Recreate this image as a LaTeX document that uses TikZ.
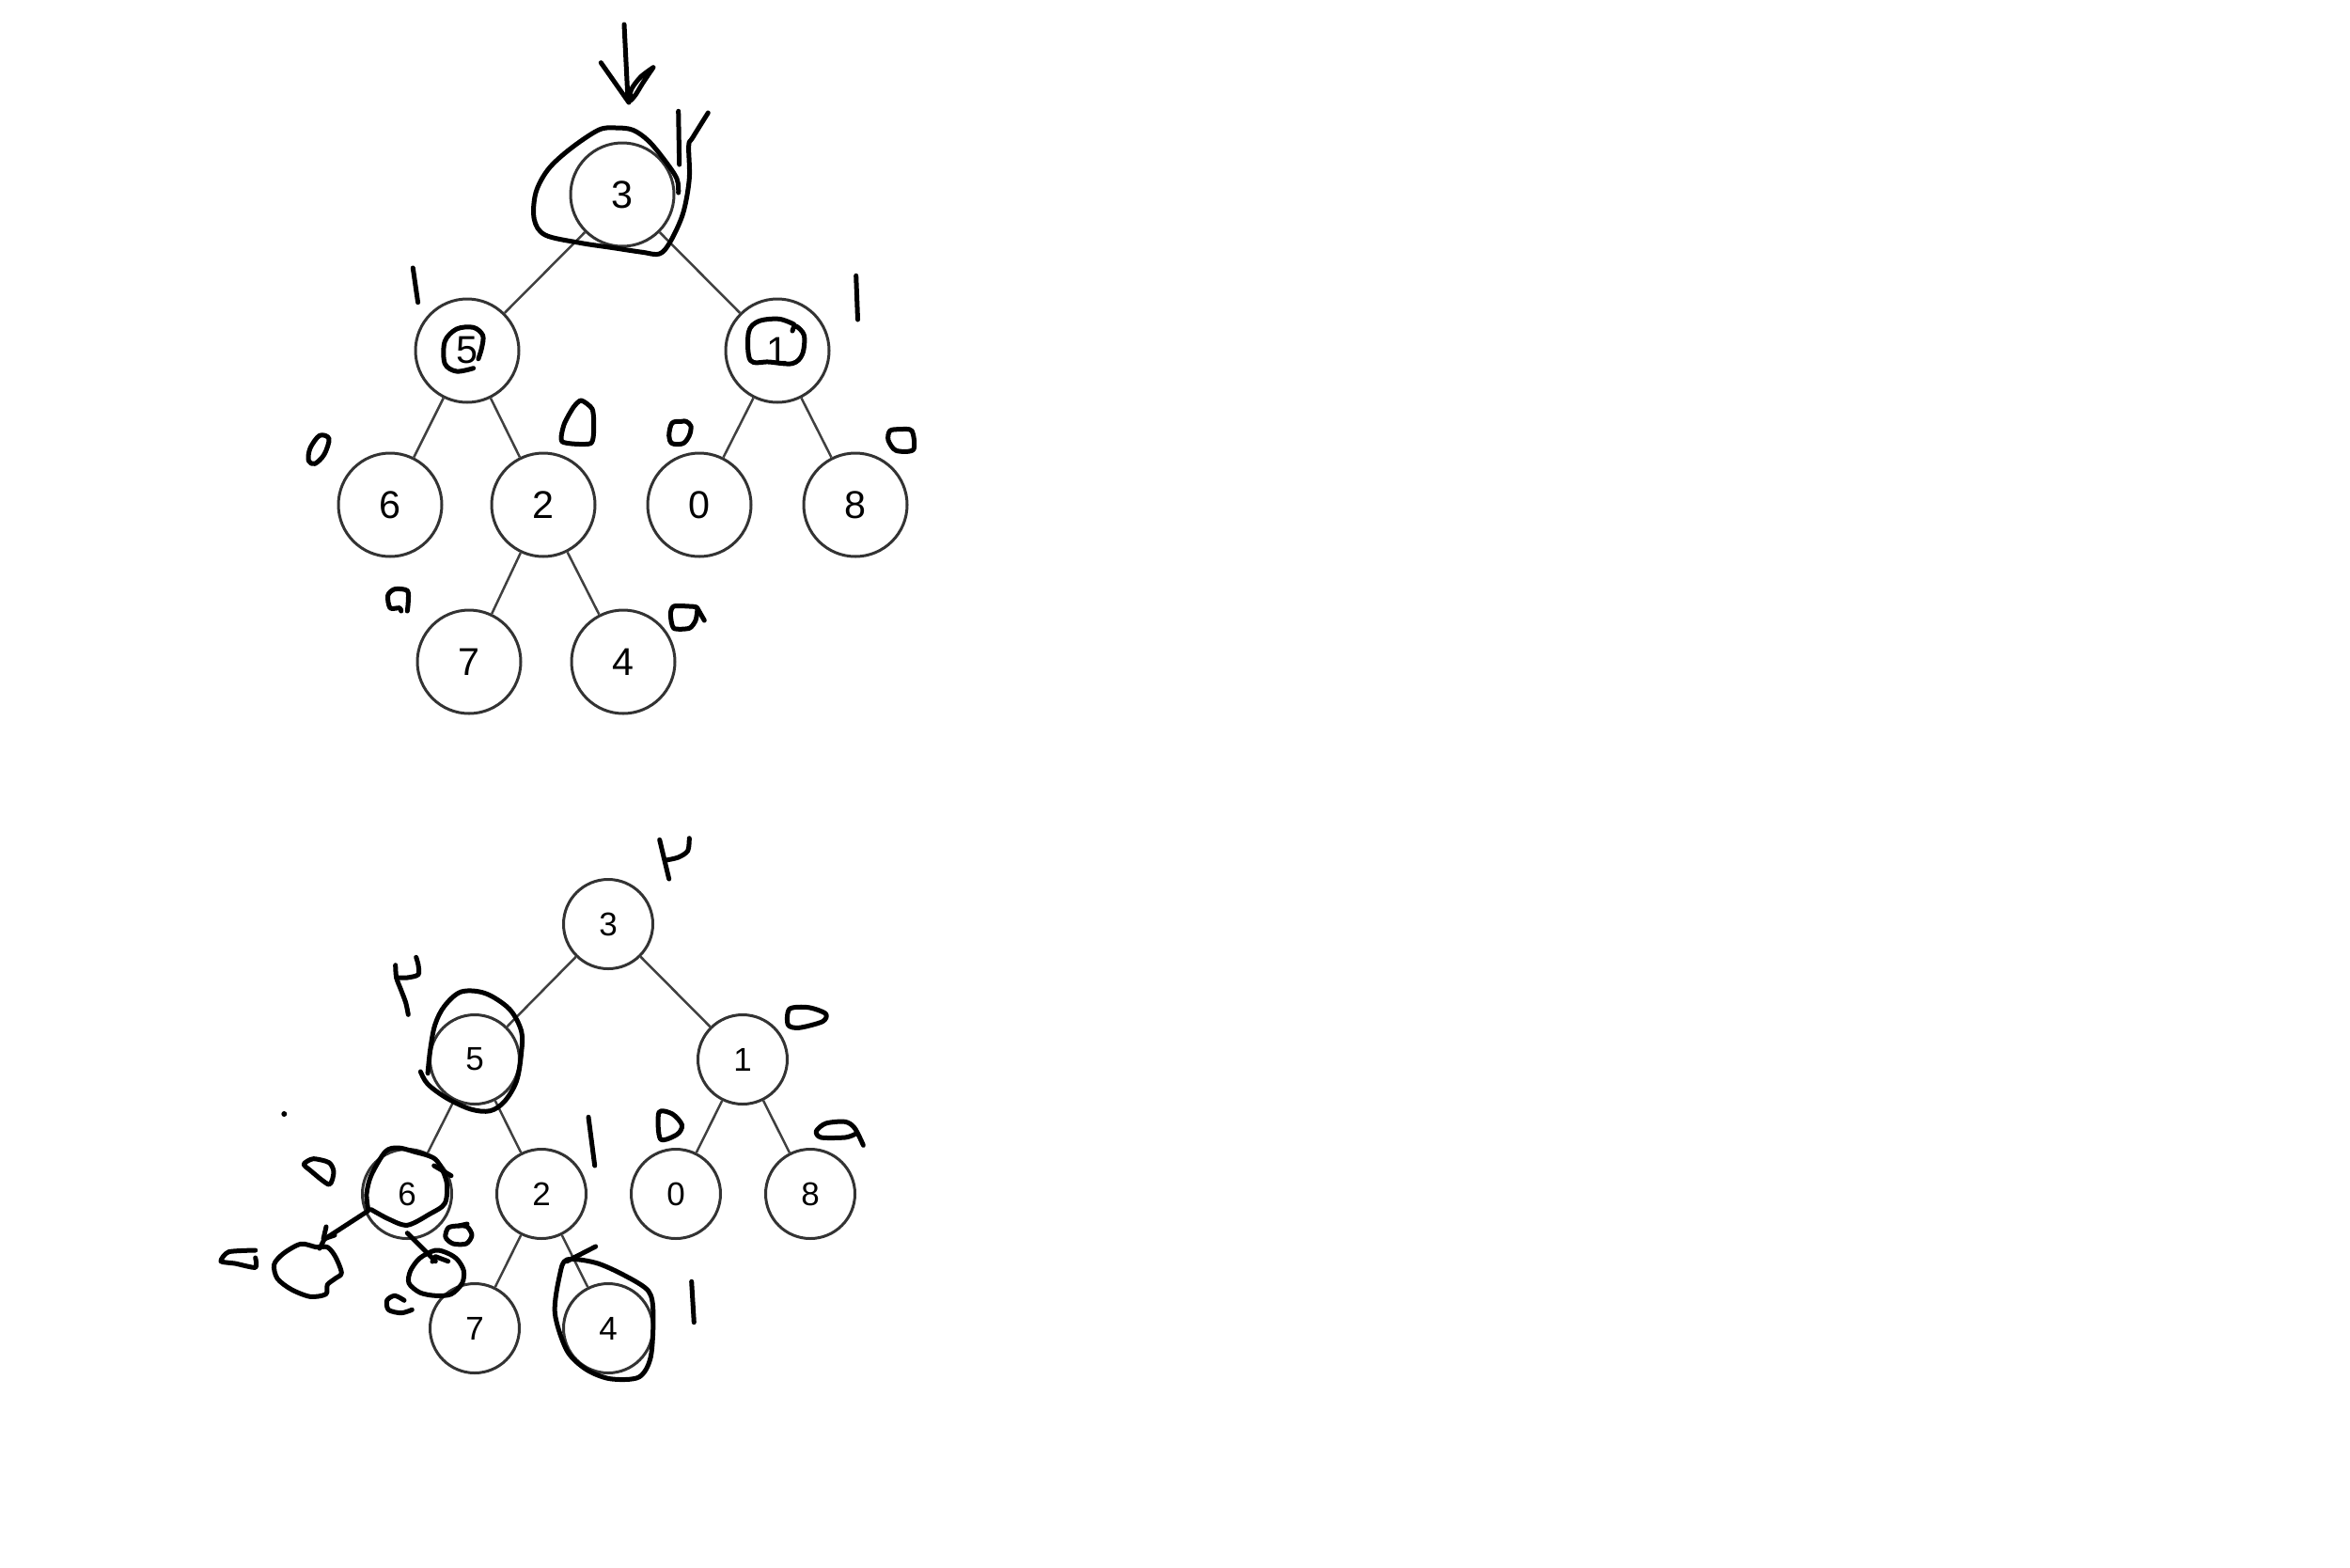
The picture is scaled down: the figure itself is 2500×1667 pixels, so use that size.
\documentclass[tikz,border=0pt]{standalone}
\usepackage{fontspec}
\setmainfont{Liberation Sans}
\begin{document}
\begin{tikzpicture}[x=0.4pt,y=-0.4pt,
  tnode/.style={circle, draw=black!80, line width=1.2pt, minimum size=44pt, inner sep=0pt, font=\fontsize{16.5}{18}\selectfont},
  bnode/.style={tnode, minimum size=38pt, font=\fontsize{14}{16}\selectfont},
  edge/.style={draw=black!75, line width=1pt},
  hand/.style={line width=2pt, line cap=round, line join=round, draw=black}]
\useasboundingbox[fill=white] (0,0) rectangle (2500,1667);

% ---------- top tree ----------
\node[tnode] (a3) at (662,207) {3};
\node[tnode] (a5) at (497,373) {5};
\node[tnode] (a1) at (827,373) {1};
\node[tnode] (a6) at (415,537) {6};
\node[tnode] (a2) at (578,537) {2};
\node[tnode] (a0) at (744,537) {0};
\node[tnode] (a8) at (910,537) {8};
\node[tnode] (a7) at (499,704) {7};
\node[tnode] (a4) at (663,704) {4};
\draw[edge] (a3) -- (a5);
\draw[edge] (a3) -- (a1);
\draw[edge] (a5) -- (a6);
\draw[edge] (a5) -- (a2);
\draw[edge] (a1) -- (a0);
\draw[edge] (a1) -- (a8);
\draw[edge] (a2) -- (a7);
\draw[edge] (a2) -- (a4);

% ---------- bottom tree ----------
\node[bnode] (b3) at (647,983) {3};
\node[bnode] (b5) at (505,1127) {5};
\node[bnode] (b1) at (790,1127) {1};
\node[bnode] (b6) at (433,1270) {6};
\node[bnode] (b2) at (576,1270) {2};
\node[bnode] (b0) at (719,1270) {0};
\node[bnode] (b8) at (862,1270) {8};
\node[bnode] (b7) at (505,1413) {7};
\node[bnode] (b4) at (647,1413) {4};
\draw[edge] (b3) -- (b5);
\draw[edge] (b3) -- (b1);
\draw[edge] (b5) -- (b6);
\draw[edge] (b5) -- (b2);
\draw[edge] (b1) -- (b0);
\draw[edge] (b1) -- (b8);
\draw[edge] (b2) -- (b7);
\draw[edge] (b2) -- (b4);

% ---------- hand annotations, top ----------
\coordinate (arrtop) at (664,26);
\coordinate (arrtip) at (668,106);
\draw[hand] (arrtop) -- (arrtip);
\draw[hand] (639.3,66.7) -- (669,109);
\draw[hand] plot[smooth,tension=0.5] coordinates {(695,71.7) (681.7,81.7) (671.7,95) (670,107) (676,101) (684,88) (695,71.7)};
% circle round 3 with the mark
\draw[hand] plot[smooth,tension=0.55] coordinates {(721.7,205) (720,190) (706.7,170) (690,150) (673.3,138.3) (655,136) (636.7,138.3) (606.7,158.3) (583.3,180) (570,205) (568.3,233.3) (580,250) (616.7,258.3) (650,263.3) (683.3,268.3) (701.7,270) (713.3,256.7) (726.7,226.7) (733.3,190) (732.7,155) (736.7,146.7) (753.3,120)};
\draw[hand] (721.7,118.3) -- (722.7,175);
% marks at level 1
\draw[hand] (439.3,285) -- (444.6,321.7);
\draw[hand] plot[smooth,tension=0.55] coordinates {(503.6,391.7) (485.7,395) (473.2,386.7) (473.2,363.3) (485.7,350) (503.6,348.3) (513.6,356.7) (512.5,370) (508.9,381.7)};
\draw[hand] plot[smooth,tension=0.55] coordinates {(844.6,345) (828.6,339.3) (807.1,341.7) (796.4,353.3) (798.2,383.3) (817.9,385) (842.9,386.7) (853.6,376.7) (855.4,356.7) (846.4,346.7) (843,352)};
\draw[hand] (910.7,293.3) -- (912.5,340);
% marks at level 2
\draw[hand] plot[smooth cycle,tension=0.55] coordinates {(350,466.7) (340,463.3) (330,476.7) (328.3,490) (335,493.3) (345,483.3)};
\draw[hand] plot[smooth cycle,tension=0.4] coordinates {(598.3,470) (600,451.7) (610,433.3) (618.3,426) (630,435) (631.7,453.3) (628.3,471.7)};
\draw[hand] plot[smooth cycle,tension=0.55] coordinates {(725,448.3) (715,450) (711.7,463.3) (715,471.7) (726.7,471.7) (733.3,463.3) (735,453.3) (730,448.3)};
\draw[hand] plot[smooth cycle,tension=0.5] coordinates {(956.7,456.7) (946.7,458.3) (945,468.3) (953.3,479.3) (971.7,478.3) (970,458.3)};
% marks at level 3
\draw[hand] plot[smooth,tension=0.5] coordinates {(426.7,650) (425,646.7) (415,646.7) (412.7,633.3) (420,626.7) (433.3,628.3) (434.3,640) (433.3,650)};
\draw[hand] plot[smooth cycle,tension=0.4] coordinates {(716.7,668.3) (713.3,653.3) (716.7,645) (733.3,645) (741.7,646.7) (740,660) (733.3,668.3)};
\draw[hand] (741.7,646.7) -- (749.3,660);

% ---------- hand annotations, bottom ----------
\draw[hand] (701.7,893.3) -- (711.7,935);
\draw[hand] plot[smooth,tension=0.5] coordinates {(708.5,915) (721.7,912) (731.7,905) (733.3,891.7)};
\draw[hand] plot[smooth cycle,tension=0.5] coordinates {(838.3,1090) (840,1073.3) (860,1071.7) (878.3,1078.3) (875,1086.7) (850,1093.3)};
% mark and circle at 5
\draw[hand] plot[smooth,tension=0.5] coordinates {(420.7,1026.7) (421.7,1040) (426.7,1053.3) (431.7,1066.7) (434.3,1079.3)};
\draw[hand] plot[smooth,tension=0.5] coordinates {(421.7,1040) (433.3,1040) (445,1036.7) (445,1026.7) (442.7,1018.3)};
\draw[hand] plot[smooth,tension=0.55] coordinates {(447.4,1140) (455.1,1153.3) (475.5,1168.3) (501,1180) (521.4,1181.7) (536.7,1171.7) (549.5,1150) (554.6,1120) (554.6,1096.7) (541.8,1073.3) (516.3,1056.7) (490.8,1055) (473,1070) (462.8,1090) (457.7,1116.7) (455.1,1141.7)};
% other marks of levels 1 and 2
\draw[hand] (626,1188.3) -- (632.7,1240);
\draw[hand] plot[smooth cycle,tension=0.5] coordinates {(702.6,1211.7) (701,1183.3) (715.3,1185) (725.5,1196.7) (720.4,1206.7)};
\draw[hand] plot[smooth,tension=0.5] coordinates {(909.2,1206.7) (899,1210) (873.5,1210) (868.4,1203.3) (878.6,1195) (899,1193.3) (909.2,1200) (918.4,1218.3)};
\fill (302.3,1185) circle (3);
\draw[hand] plot[smooth cycle,tension=0.45] coordinates {(350,1260) (355,1246.7) (350,1236.7) (333.3,1232.7) (323.3,1238.3) (330,1245)};
% circle at 6
\draw[hand] plot[smooth,tension=0.5] coordinates {(391.7,1286.7) (390,1270) (395,1250) (410,1225) (423.3,1221) (440,1225) (463.3,1233.3) (475,1256.7) (473.3,1280) (456.7,1291.7) (433.3,1303.3) (413.3,1296.7) (395,1286.7)};
\draw[hand] (461.7,1240) -- (480,1250.7);
% new children of 6
\coordinate (lnew) at (340,1328);
\coordinate (rnew) at (463.3,1341.7);
\draw[hand] (391.7,1288) -- (345,1318.3) -- (lnew);
\draw[hand] (347,1305) -- (344,1318) -- (356,1314);
\draw[hand] plot[smooth cycle,tension=0.5] coordinates {(336.7,1326.7) (320,1323.3) (301.7,1333.3) (291.7,1345) (295,1360) (310,1371.7) (330,1379.3) (346.7,1376.7) (348.3,1366.7) (356.7,1360) (363.3,1354) (356.7,1336.7) (348.3,1326.7)};
\draw[hand] (433.3,1311.7) -- (rnew);
\draw[hand] (460,1342) -- (463.3,1336.7) -- (476.7,1341.7);
\draw[hand] plot[smooth cycle,tension=0.5] coordinates {(463.3,1330) (446.7,1338.3) (436.7,1351.7) (435,1365) (446.7,1375) (463.3,1378.3) (480,1376.7) (491.7,1365) (493.3,1351.7) (486.7,1340) (476.7,1333.3)};
\draw[hand] plot[smooth,tension=0.4] coordinates {(271.7,1330) (243.3,1331.7) (235,1341.7) (250,1344) (271.7,1348.3) (271.7,1338)};
\draw[hand] plot[smooth cycle,tension=0.5] coordinates {(488,1304) (477,1306) (474,1316) (482,1323) (496,1323) (502,1314) (497,1305)};
\draw[hand] (488,1304) -- (497,1302);
\draw[hand] plot[smooth,tension=0.5] coordinates {(430,1383.3) (420,1378.3) (411.7,1383.3) (413.3,1393.3) (426.7,1396.7) (438.3,1393.3)};
% circle at 4
\draw[hand] plot[smooth cycle,tension=0.5] coordinates {(603.1,1340) (595.4,1356.7) (590.3,1396.7) (603.1,1436.7) (623.5,1456.7) (649,1466.7) (679.6,1465) (692.3,1443.3) (694.9,1396.7) (689.8,1373.3) (664.3,1356.7) (633.7,1343.3)};
\draw[hand] (603.1,1341.7) -- (633.7,1326);
\draw[hand] (735.7,1363.3) -- (738.3,1406.7);
\end{tikzpicture}
\end{document}
